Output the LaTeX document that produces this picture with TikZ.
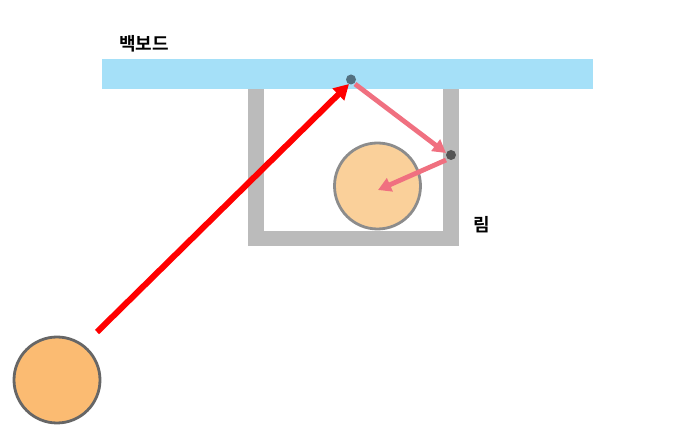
\documentclass[tikz,border=0pt]{standalone}
\usepackage{fontspec}
\newfontfamily\kr[BoldFont={Noto Sans CJK KR Bold}]{Noto Sans CJK KR}
\usetikzlibrary{arrows.meta}
\definecolor{boardblue}{HTML}{A5E0F8}
\definecolor{rimgray}{HTML}{BBBBBB}
\definecolor{ballA}{HTML}{FBBB72}
\definecolor{ballB}{HTML}{FAD09A}
\definecolor{pathpink}{HTML}{F07080}
\definecolor{dotA}{HTML}{527080}
\definecolor{dotB}{HTML}{555555}
\begin{document}
\begin{tikzpicture}[x=1pt,y=-1pt,
  lbl/.style={font=\kr\bfseries\fontsize{18}{20}\selectfont,inner sep=0pt},
  ball/.style={circle,line width=2.8pt,inner sep=0pt,minimum size=86pt},
  hit/.style={circle,inner sep=0pt,minimum size=10pt},
  shot/.style={line width=6pt,red,-{Triangle[length=15pt,width=16pt]}},
  bounce/.style={line width=4.8pt,pathpink,-{Triangle[length=13pt,width=14pt]}}]
\useasboundingbox (0,0) rectangle (673,438);
\fill[white] (0,0) rectangle (673,438);
% backboard
\node[fill=boardblue,minimum width=491pt,minimum height=30pt,inner sep=0pt,anchor=north west] (board) at (102,59) {};
% rim frame
\fill[rimgray] (248,89) rectangle (263.5,246.5);
\fill[rimgray] (443,89) rectangle (458.5,246.5);
\fill[rimgray] (248,231) rectangle (458.5,246.5);
% labels
\node[lbl] (tboard) at (144,44) {백보드};
\node[lbl] (trim) at (482,225) {림};
% balls
\node[ball,draw=dotB!90,fill=ballA] (shooter) at (57,380) {};
\node[ball,draw=black!45,fill=ballB] (inball) at (377.5,186) {};
% contact points
\node[hit,fill=dotA] (p1) at (351,79.5) {};
\node[hit,fill=dotB] (p2) at (451,155) {};
\coordinate (start) at (97,332);
\coordinate (bstart) at (355,84);
\coordinate (cstart) at (446,160);
\coordinate (cend) at (378,190);
% arrows
\draw[shot] (start) -- (349,84);
\draw[bounce] (bstart) -- (446,153);
\draw[bounce] (cstart) -- (cend);
\end{tikzpicture}
\end{document}
